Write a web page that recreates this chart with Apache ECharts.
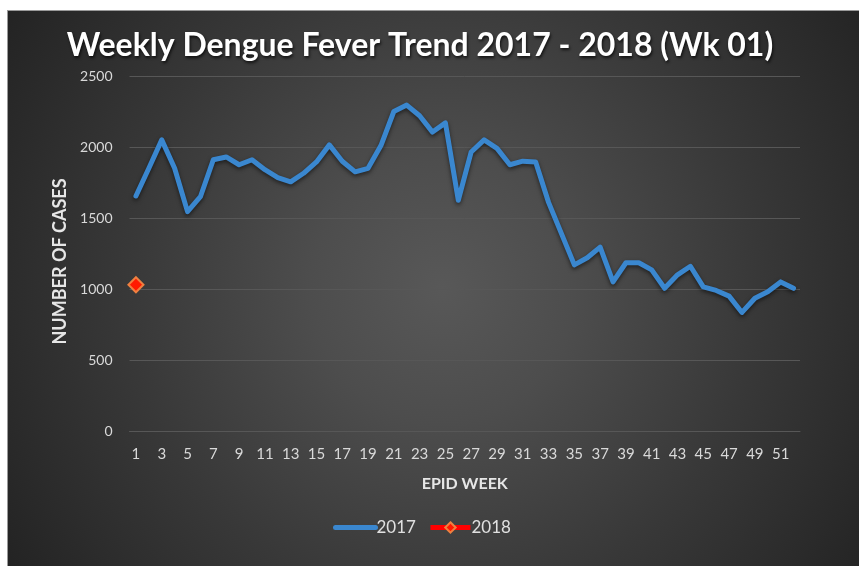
<!DOCTYPE html>
<html>
<head>
<meta charset="utf-8">
<script src="https://cdn.jsdelivr.net/npm/echarts@6/dist/echarts.min.js"></script>
<style>
  html, body { margin: 0; padding: 0; background: #ffffff; width: 859px; height: 566px; overflow: hidden; }
  #frame { position: absolute; left: 7px; top: 10px; width: 852px; height: 556px; background: #9a9a9a; }
  #chart { position: absolute; left: 8px; top: 11px; width: 851px; height: 555px; }
</style>
</head>
<body>
<div id="frame"></div>
<div id="chart"></div>
<script>
const weeks = ['1','2','3','4','5','6','7','8','9','10','11','12','13','14','15','16','17','18','19','20','21','22','23','24','25','26','27','28','29','30','31','32','33','34','35','36','37','38','39','40','41','42','43','44','45','46','47','48','49','50','51','52'];
const cases2017 = [1655,1850,2050,1850,1545,1650,1910,1930,1875,1910,1840,1785,1755,1815,1895,2015,1900,1825,1850,2010,2250,2295,2220,2105,2170,1625,1965,2050,1990,1875,1900,1895,1610,1390,1170,1220,1295,1050,1185,1185,1135,1005,1100,1160,1015,990,950,835,935,980,1050,1005];
const cases2018 = [1030];
const yTicks = { min: 0, max: 2500, interval: 500 };

const chart = echarts.init(document.getElementById('chart'), null, { renderer: 'canvas' });
const font = 'Lato, "Open Sans", sans-serif';
chart.setOption({
  animation: false,
  backgroundColor: {
    type: 'radial', x: 0.51, y: 0.5, r: 0.95,
    colorStops: [
      { offset: 0, color: '#585858' },
      { offset: 0.25, color: '#4d4d4d' },
      { offset: 0.6, color: '#383838' },
      { offset: 1, color: '#222222' }
    ]
  },
  title: {
    text: 'Weekly Dengue Fever Trend 2017 - 2018 (Wk 01)',
    left: 407, top: 14, textAlign: 'center',
    textStyle: {
      color: '#ffffff', fontFamily: font, fontWeight: 'bold', fontSize: 32,
      textShadowColor: 'rgba(0,0,0,0.7)', textShadowBlur: 3, textShadowOffsetX: 1, textShadowOffsetY: 2
    }
  },
  grid: { left: 121.5, right: 59, top: 65, bottom: 135, containLabel: false },
  legend: {
    left: 320, top: 503, itemGap: 12, itemWidth: 40, itemHeight: 13,
    lineStyle: { width: 5 },
    data: [
      { name: '2017', itemStyle: { opacity: 0 }, lineStyle: { width: 5 } },
      { name: '2018', lineStyle: { width: 5, color: '#ff0000' } }
    ],
    textStyle: { color: '#e0e0e0', fontFamily: font, fontSize: 17, padding: [0, 0, 0, -4] }
  },
  xAxis: {
    type: 'category', data: weeks, boundaryGap: true,
    name: 'EPID WEEK', nameLocation: 'middle', nameGap: 45,
    nameTextStyle: { color: '#e6e6e6', fontFamily: font, fontWeight: 'bold', fontSize: 16 },
    axisLine: { show: true, lineStyle: { color: '#575757', width: 1 } },
    axisTick: { show: false },
    axisLabel: { interval: 1, color: '#d9d9d9', fontFamily: font, fontSize: 15, margin: 16 },
    splitLine: { show: false }
  },
  yAxis: {
    type: 'value', min: yTicks.min, max: yTicks.max, interval: yTicks.interval,
    name: 'NUMBER OF CASES', nameLocation: 'middle', nameGap: 60, nameRotate: 90,
    nameTextStyle: { color: '#e6e6e6', fontFamily: font, fontWeight: 'bold', fontSize: 18, padding: [0, 0, 0, -16] },
    axisLine: { show: false }, axisTick: { show: false },
    axisLabel: { color: '#d9d9d9', fontFamily: font, fontSize: 14, margin: 17, formatter: function (v) { return String(v); } },
    splitLine: { lineStyle: { color: '#575757', width: 1 } }
  },
  series: [
    {
      name: '2017', type: 'line', data: cases2017, symbol: 'none',
      lineStyle: { color: '#3a87cf', width: 5, shadowColor: 'rgba(0,0,0,0.55)', shadowBlur: 4, shadowOffsetY: 2, join: 'round', cap: 'round' },
      itemStyle: { color: '#3a87cf' }
    },
    {
      name: '2018', type: 'line', data: cases2018, symbol: 'diamond', symbolSize: 15,
      lineStyle: { color: '#ff0000', width: 5 },
      itemStyle: { color: '#ff1a00', borderColor: '#f08040', borderWidth: 2 }
    }
  ]
});
</script>
</body>
</html>
